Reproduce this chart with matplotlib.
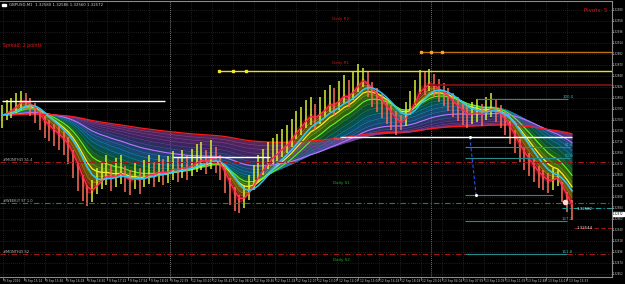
import numpy as np
import matplotlib
matplotlib.use("Agg")
import matplotlib.pyplot as plt
from matplotlib.colors import LinearSegmentedColormap
import matplotlib.transforms as mtransforms

# ---------------- data ----------------
header_text = "GBPUSD,M1  1.32580 1.32586 1.32560 1.32572"

bar_close = [1.32770, 1.32776, 1.32784, 1.32792, 1.32804, 1.32800, 1.32788, 1.32776, 1.32760, 1.32746,
             1.32740, 1.32732, 1.32724, 1.32714, 1.32700, 1.32676, 1.32650, 1.32624, 1.32604, 1.32614,
             1.32636, 1.32648, 1.32656, 1.32644, 1.32650, 1.32658, 1.32640, 1.32634, 1.32644, 1.32638,
             1.32648, 1.32656, 1.32650, 1.32660, 1.32654, 1.32658, 1.32666, 1.32660, 1.32668, 1.32664,
             1.32672, 1.32680, 1.32684, 1.32676, 1.32688, 1.32680, 1.32664, 1.32640, 1.32616, 1.32600,
             1.32588, 1.32604, 1.32624, 1.32644, 1.32660, 1.32674, 1.32684, 1.32696, 1.32700, 1.32710,
             1.32718, 1.32730, 1.32748, 1.32756, 1.32770, 1.32776, 1.32764, 1.32776, 1.32788, 1.32800,
             1.32792, 1.32804, 1.32816, 1.32808, 1.32824, 1.32840, 1.32848, 1.32830, 1.32810, 1.32800,
             1.32788, 1.32776, 1.32764, 1.32752, 1.32746, 1.32770, 1.32792, 1.32812, 1.32836, 1.32832,
             1.32840, 1.32828, 1.32816, 1.32808, 1.32800, 1.32788, 1.32780, 1.32772, 1.32764, 1.32772,
             1.32776, 1.32768, 1.32780, 1.32788, 1.32776, 1.32764, 1.32752, 1.32732, 1.32714, 1.32696,
             1.32680, 1.32668, 1.32656, 1.32644, 1.32638, 1.32632, 1.32640, 1.32648, 1.32612, 1.32592,
             1.32572]

bar_high = [1.32790, 1.32800, 1.32805, 1.32815, 1.32818, 1.32815, 1.32805, 1.32795, 1.32782, 1.32768,
            1.32760, 1.32752, 1.32748, 1.32738, 1.32726, 1.32700, 1.32676, 1.32650, 1.32630, 1.32640,
            1.32665, 1.32676, 1.32690, 1.32672, 1.32684, 1.32690, 1.32668, 1.32660, 1.32676, 1.32664,
            1.32680, 1.32690, 1.32676, 1.32690, 1.32682, 1.32688, 1.32698, 1.32686, 1.32700, 1.32690,
            1.32702, 1.32712, 1.32716, 1.32700, 1.32720, 1.32706, 1.32690, 1.32668, 1.32644, 1.32626,
            1.32610, 1.32630, 1.32650, 1.32670, 1.32690, 1.32702, 1.32716, 1.32724, 1.32732, 1.32742,
            1.32750, 1.32762, 1.32778, 1.32786, 1.32800, 1.32806, 1.32792, 1.32806, 1.32820, 1.32830,
            1.32824, 1.32838, 1.32850, 1.32840, 1.32856, 1.32872, 1.32864, 1.32856, 1.32836, 1.32824,
            1.32812, 1.32800, 1.32790, 1.32778, 1.32770, 1.32796, 1.32818, 1.32840, 1.32860, 1.32858,
            1.32862, 1.32852, 1.32842, 1.32834, 1.32824, 1.32814, 1.32806, 1.32796, 1.32790, 1.32796,
            1.32802, 1.32792, 1.32806, 1.32814, 1.32800, 1.32790, 1.32778, 1.32758, 1.32740, 1.32722,
            1.32706, 1.32694, 1.32682, 1.32668, 1.32660, 1.32654, 1.32664, 1.32660, 1.32636, 1.32616,
            1.32600]

bar_low = [1.32745, 1.32760, 1.32765, 1.32775, 1.32780, 1.32782, 1.32768, 1.32755, 1.32740, 1.32725,
           1.32718, 1.32708, 1.32700, 1.32690, 1.32672, 1.32645, 1.32618, 1.32598, 1.32588, 1.32596,
           1.32612, 1.32622, 1.32630, 1.32618, 1.32626, 1.32632, 1.32616, 1.32610, 1.32622, 1.32612,
           1.32626, 1.32632, 1.32626, 1.32636, 1.32630, 1.32634, 1.32640, 1.32636, 1.32644, 1.32640,
           1.32648, 1.32656, 1.32660, 1.32652, 1.32662, 1.32654, 1.32640, 1.32614, 1.32590, 1.32578,
           1.32574, 1.32584, 1.32600, 1.32620, 1.32636, 1.32650, 1.32662, 1.32672, 1.32678, 1.32686,
           1.32694, 1.32706, 1.32722, 1.32730, 1.32744, 1.32750, 1.32740, 1.32752, 1.32764, 1.32776,
           1.32770, 1.32780, 1.32792, 1.32786, 1.32800, 1.32816, 1.32826, 1.32806, 1.32786, 1.32776,
           1.32764, 1.32752, 1.32740, 1.32730, 1.32740, 1.32748, 1.32770, 1.32790, 1.32812, 1.32810,
           1.32818, 1.32806, 1.32796, 1.32788, 1.32778, 1.32766, 1.32758, 1.32750, 1.32744, 1.32752,
           1.32756, 1.32748, 1.32760, 1.32766, 1.32756, 1.32744, 1.32730, 1.32712, 1.32694, 1.32676,
           1.32660, 1.32648, 1.32636, 1.32624, 1.32620, 1.32614, 1.32620, 1.32628, 1.32596, 1.32576,
           1.32560]

ribbon_periods = [2, 3, 4, 5, 7, 9, 11, 14, 17, 21, 26, 32, 39, 47, 57, 69, 83, 100, 120, 145]

y_tick_values = [1.32980, 1.32958, 1.32936, 1.32914, 1.32892, 1.32870, 1.32848, 1.32826, 1.32804,
                 1.32782, 1.32760, 1.32738, 1.32716, 1.32694, 1.32672, 1.32650, 1.32628, 1.32606,
                 1.32584, 1.32562, 1.32540, 1.32518, 1.32496, 1.32474, 1.32452]

x_tick_labels = ["9 Sep 2016", "9 Sep 15:14", "9 Sep 15:46", "9 Sep 16:18", "9 Sep 16:50",
                 "9 Sep 17:22", "9 Sep 17:54", "9 Sep 18:26", "9 Sep 22:59", "12 Sep 03:10",
                 "12 Sep 05:42", "12 Sep 08:14", "12 Sep 09:46", "12 Sep 11:18", "12 Sep 12:07",
                 "12 Sep 13:07", "12 Sep 14:03", "12 Sep 15:00", "12 Sep 16:18", "12 Sep 18:18",
                 "12 Sep 20:16", "13 Sep 04:04", "13 Sep 07:59", "13 Sep 10:09", "13 Sep 11:39",
                 "13 Sep 12:48", "13 Sep 14:13", "13 Sep 15:33"]

# horizontal objects (price levels, start bar, end bar)
white_levels = [1.32798, 1.32686, 1.32726]
white_starts = [0, 36, 71.2]
white_ends = [34.3, 56.4, 120]
r1_level, r1_start = 1.32858, 45.7
r1_marks = [45.7, 48.6, 51.4]
r2_level, r2_start = 1.32896, 88.2
r2_marks = [88.2, 90.3, 92.6]
dred_level, dred_start = 1.32830, 90.0
dashdot_levels = [1.32676, 1.32594, 1.32492]
dashdot_colors = ["#a01818", "#1c8a1c", "#a01818"]
dashdot_names = ["#MONTHLY S1.4", "#WEEKLY ST 1.0", "#MONTHLY S2"]
cyan_level, cyan_start = 1.32584, 118.0
red_dash_level, red_dash_start = 1.32544, 120.5
fib_levels = [1.32802, 1.32706, 1.32684, 1.32610, 1.32558, 1.32492]
fib_starts = [100.0, 97.5, 97.5, 97.5, 97.5, 97.5]
fib_ends = [119.2, 119.6, 119.6, 116.0, 119.0, 119.0]
fib_names = ["100.0", "61.8", "50.0", "", "127.2", "161.8"]
fib_link_bars = [98.5, 99.8]
fib_link_prices = [1.32726, 1.32610]
day_separator_bars = [35.4, 90.3]
pivot_names = ["Daily R2", "Daily R1", "Daily P", "Daily S1", "Daily S2"]
pivot_label_prices = [1.32962, 1.32874, 1.32722, 1.32634, 1.32480]
pivot_label_colors = ["#c81818", "#c81818", "#909090", "#1cb01c", "#1cb01c"]

# ---------------- figure ----------------
W, H = 625, 284
fig = plt.figure(figsize=(W / 100, H / 100), dpi=100, facecolor="black")
ax = fig.add_axes([0, 7 / H, 612 / W, 276 / H], facecolor="black")

px_per_bar = 4.75
x0_bar = -2 / px_per_bar
x1_bar = 610 / px_per_bar
ymax = 1.33 - 1 / 50000
ymin = 1.33 - 277 / 50000
ax.set_xlim(x0_bar, x1_bar)
ax.set_ylim(ymin, ymax)


def P(x, y):
    """pixel -> axes fraction"""
    return x / 612, 1 - (y - 1) / 276


close = np.array(bar_close)
high = np.array(bar_high)
low = np.array(bar_low)
xb = np.arange(len(close))


def ema(v, n):
    a = 2 / (n + 1)
    out = np.empty_like(v)
    out[0] = v[0]
    for i in range(1, len(v)):
        out[i] = a * v[i] + (1 - a) * out[i - 1]
    return out


# grid
for yv in y_tick_values:
    ax.axhline(yv, color="#3a3a3a", lw=0.5, ls=(0, (1, 2)), zorder=0)
xt_px = [3 + 20.9 * k for k in range(len(x_tick_labels))]
for xp in xt_px:
    ax.axvline((xp - 2) / px_per_bar, color="#3a3a3a", lw=0.5, ls=(0, (1, 2)), zorder=0)
for b in day_separator_bars:
    ax.axvline(b, color="#9a9a9a", lw=0.6, ls=(0, (1, 1.5)), zorder=1)

# ribbon (fast -> slow)
cmap = LinearSegmentedColormap.from_list(
    "rib", ["#b01010", "#b04010", "#b0a010", "#90b010", "#40a020", "#108050",
            "#1088a8", "#2a78c0", "#3c5aa8", "#5a4098", "#7a3c9c", "#8a4090"])
emas = [ema(close, n) for n in ribbon_periods]
nr = len(emas)
for k in range(nr - 1):
    c = cmap(k / (nr - 2))
    ax.fill_between(xb, emas[k], emas[k + 1], color=c, alpha=0.6, lw=0, zorder=2)
for k in range(nr - 1):
    c = cmap(k / (nr - 2))
    ax.plot(xb, emas[k], color=c, lw=0.5, alpha=0.9, zorder=3)
ax.plot(xb, emas[5], color="#f0f020", lw=0.9, zorder=3)
ax.plot(xb, emas[7], color="#60f020", lw=0.8, zorder=3)
ax.plot(xb, emas[13], color="#c070ff", lw=0.8, zorder=3)
ax.plot(xb, emas[-1], color="#ff1a1a", lw=0.9, zorder=3)

# bars
prev = np.concatenate([[close[0]], close[:-1]])
cols = np.where(close >= prev, "#d8f030", "#ff6e58")
ax.vlines(xb, low, high, colors=cols, lw=1.1, zorder=4)

# smooth lines
pink = ema(close, 3)
cyan = ema(ema(close, 4), 4)
ax.plot(xb, pink, color="#ff2a5a", lw=1.0, zorder=5)
ax.plot(xb, cyan, color="#28c8ff", lw=1.1, zorder=5)

# horizontal objects
for lv, s, e in zip(white_levels, white_starts, white_ends):
    ax.hlines(lv, s, e, color="white", lw=1.0, zorder=6)
ax.hlines(r1_level, r1_start, x1_bar, color="#e8e020", lw=1.0, zorder=6)
ax.plot(r1_marks, [r1_level] * len(r1_marks), ls="none", marker="s", ms=1.8, color="#f0e830", zorder=7)
ax.hlines(r2_level, r2_start, x1_bar, color="#c07010", lw=1.0, zorder=6)
ax.plot(r2_marks, [r2_level] * len(r2_marks), ls="none", marker="s", ms=1.8, color="#ffa020", zorder=7)
ax.hlines(dred_level, dred_start, x1_bar, color="#8a1010", lw=1.2, zorder=6)
for lv, c in zip(dashdot_levels, dashdot_colors):
    ax.axhline(lv, color=c, lw=0.8, ls=(0, (5, 2, 1, 2)), zorder=6)
ax.hlines(cyan_level, cyan_start, x1_bar, color="#20a0a0", lw=0.8, ls=(0, (5, 2, 1, 2)), zorder=6)
ax.hlines(red_dash_level, red_dash_start, x1_bar, color="#a01818", lw=0.8, ls=(0, (4, 2)), zorder=6)
for lv, s, e in zip(fib_levels, fib_starts, fib_ends):
    ax.hlines(lv, s, e, color="#2a8a8a", lw=0.8, zorder=6)
ax.plot(fib_link_bars, fib_link_prices, color="#2050ff", lw=0.8, ls=(0, (3, 2)), zorder=7)
ax.plot(fib_link_bars, fib_link_prices, ls="none", marker="o", ms=1.2, color="white", zorder=7)
ax.plot([118.6], [1.32596], ls="none", marker="o", ms=3, color="#ffd8d8", zorder=8)

# texts
ax.text(*P(9, 5), header_text, transform=ax.transAxes, color="#d0d0d0", fontsize=2.8, va="center")
ax.add_patch(plt.Rectangle(P(2, 6), 4 / 612, 2 / 276, transform=ax.transAxes, color="white", zorder=9))
ax.text(*P(3, 45), "Spread: 2 points", transform=ax.transAxes, color="#e01818", fontsize=3.4, va="center")
ax.text(*P(607, 10), "Pivots: 5", transform=ax.transAxes, color="#e01818", fontsize=4.0,
        va="center", ha="right")
tr_mix = mtransforms.blended_transform_factory(ax.transAxes, ax.transData)
for name, pr, c in zip(pivot_names, pivot_label_prices, pivot_label_colors):
    ax.text(341 / 612, pr, name, transform=tr_mix, color=c, fontsize=3.0, ha="center", va="center", zorder=9)
for lv, name in zip(dashdot_levels, dashdot_names):
    ax.text(3 / 612, lv + 0.00004, name, transform=tr_mix, color="#b8b8b8", fontsize=2.6, va="center", zorder=9)
for lv, e, name in zip(fib_levels, fib_ends, fib_names):
    if name:
        ax.text(e - 1.2, lv + 0.00004, name, color="#40b0b0", fontsize=2.8, va="center", zorder=9)
ax.text(*P(577, 209), "1.32582", transform=ax.transAxes, color="#e0e0e0", fontsize=2.8, va="center", zorder=9)
ax.text(*P(577, 228), "1.32544", transform=ax.transAxes, color="#e0e0e0", fontsize=2.8, va="center", zorder=9)

# y tick labels (right)
for yv in y_tick_values:
    ax.text(1.0018, yv, f"{yv:.5f}", transform=tr_mix, color="#c8c8c8", fontsize=1.9,
            va="center", ha="left", clip_on=False)
    ax.plot([1.0, 1.0015], [yv, yv], transform=tr_mix, color="#a0a0a0", lw=0.5, clip_on=False)
# current price tag
last = close[-1]
ax.text(1.0018, last, f"{last:.5f}", transform=tr_mix, color="black", fontsize=1.9, va="center",
        ha="left", clip_on=False, zorder=10,
        bbox=dict(boxstyle="square,pad=0.1", fc="white", ec="white"))

# x tick labels (bottom)
for xp, lab in zip(xt_px, x_tick_labels):
    ax.text(xp / 612 + 0.002, -0.006, lab, transform=ax.transAxes, color="#c8c8c8", fontsize=2.1,
            va="top", ha="left", clip_on=False)
    ax.plot([xp / 612, xp / 612], [0, -0.012], transform=ax.transAxes, color="#a0a0a0", lw=0.5, clip_on=False)

ax.set_xticks([])
ax.set_yticks([])
for s in ax.spines.values():
    s.set_color("#8a8a8a")
    s.set_linewidth(0.8)
ax.spines["left"].set_visible(False)

fig.savefig("out.png", dpi=100, facecolor="black")
